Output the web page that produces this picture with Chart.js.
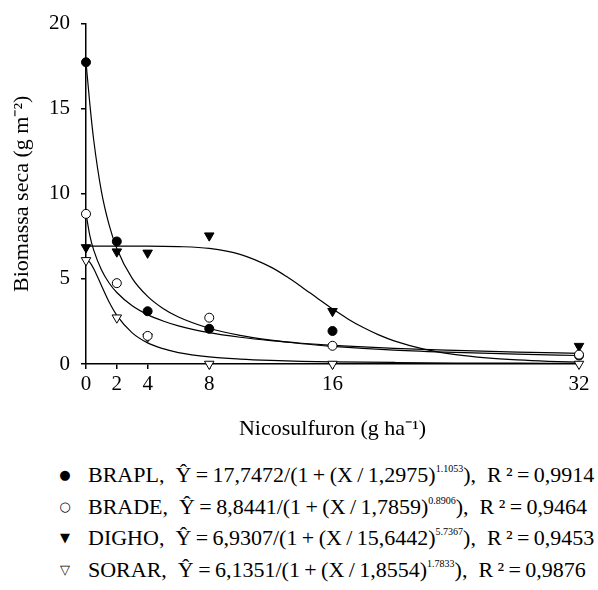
<!DOCTYPE html>
<html>
<head>
<meta charset="utf-8">
<script src="https://cdn.jsdelivr.net/npm/chart.js@4.4.1/dist/chart.umd.min.js"></script>
<style>
	body { margin:0; background:#fff; width:598px; height:590px; overflow:hidden; font-family:'Liberation Serif', 'Times New Roman', serif; color:#000; }
	#wrap { position:relative; width:598px; height:450px; }
	.row { position:absolute; left:0; width:598px; height:32px; line-height:32px; font-size:22px; white-space:nowrap; }
	.mk { position:absolute; left:57px; width:16px; text-align:center; font-family:'DejaVu Sans'; font-size:13px; }
	.tx { position:absolute; left:88px; }
	.tx sup { font-size:10px; vertical-align:10px; line-height:0; }
</style>
</head>
<body>
<div id="wrap"><canvas id="c" width="598" height="450"></canvas></div>
<script>
// doses
const xTicks = [0, 2, 4, 8, 16, 32]
const doses = [0, 2, 4, 8, 16, 32]

// observed values
const brapl = [17.73, 7.2, 3.1, 2.07, 1.94, 0.5]
const brade = [8.82, 4.75, 1.65, 2.72, 1.07, 0.55]
const digho = [6.85, 6.6, 6.53, 7.54, 3.1, 1.05]
const sorar = [6.09, 2.72, 1.6, 0, 0, 0]

// fitted curves
const fitX = [0, 0.25, 0.5, 1, 1.5, 2, 3, 4, 5, 6, 8, 10, 12, 14, 16, 20, 24, 28, 32]
const braplFit = [17.75, 15.27, 13.16, 10.14, 8.17, 6.79, 5.03, 3.97, 3.26, 2.76, 2.10, 1.68, 1.40, 1.19, 1.04, 0.82, 0.68, 0.58, 0.50]
const bradeFit = [8.84, 7.54, 6.69, 5.54, 4.76, 4.20, 3.42, 2.90, 2.53, 2.24, 1.84, 1.57, 1.37, 1.22, 1.10, 0.92, 0.80, 0.70, 0.63]
const sorarFit = [6.14, 5.97, 5.60, 4.61, 3.64, 2.86, 1.83, 1.24, 0.90, 0.67, 0.42, 0.29, 0.21, 0.16, 0.13, 0.09, 0.06, 0.05, 0.04]
const dighoX = [0, 2, 4, 6, 8, 10, 12, 13, 14, 15, 16, 17, 18, 19, 20, 22, 24, 26, 28, 30, 32]
const dighoFit = [6.93, 6.93, 6.93, 6.90, 6.79, 6.44, 5.69, 5.15, 4.53, 3.88, 3.24, 2.65, 2.14, 1.71, 1.36, 0.86, 0.55, 0.36, 0.24, 0.16, 0.11]

const legendRows = [
	['\u25CF', 'BRAPL', '17,7472', '1,2975', '1.1053', '0,9914'],
	['\u25CB', 'BRADE', '8,8441', '1,7859', '0.8906', '0,9464'],
	['\u25BC', 'DIGHO', '6,9307', '15,6442', '5.7367', '0,9453'],
	['\u25BD', 'SORAR', '6,1351', '1,8554', '1.7833', '0,9876'],
]

const pts = (xs, ys) => xs.map((x, i) => ({x:x, y:ys[i]}))

const marks = (ys, style, fill) => ({
	data: pts(doses, ys),
	showLine: false,
	pointStyle: style,
	rotation: style == 'triangle' ? 180 : 0,
	pointRadius: style == 'triangle' ? 5.5 : 4.5,
	pointBackgroundColor: fill,
	pointBorderColor: '#000',
	pointBorderWidth: 1,
	clip: false,
})

const curve = (xs, ys) => ({
	data: pts(xs, ys),
	showLine: true,
	pointRadius: 0,
	borderColor: '#000',
	borderWidth: 1.2,
	cubicInterpolationMode: 'monotone',
	clip: 4,
})

const serif = "'Liberation Serif', 'Times New Roman', serif"
const tickFont = {family:serif, size:21}
const titleFont = {family:serif, size:22}

new Chart(document.getElementById('c'), {
	type: 'scatter',
	data: {
		datasets: [
			marks(brade, 'circle', '#fff'),
			marks(brapl, 'circle', '#000'),
			marks(sorar, 'triangle', '#fff'),
			marks(digho, 'triangle', '#000'),
			curve(fitX, braplFit),
			curve(fitX, bradeFit),
			curve(dighoX, dighoFit),
			curve(fitX, sorarFit),
		]
	},
	options: {
		responsive: false,
		animation: false,
		layout: {padding: {left:0, right:19, top:20, bottom:0}},
		plugins: {legend: {display:false}, tooltip: {enabled:false}},
		scales: {
			x: {
				type: 'linear', min: 0, max: 32,
				afterBuildTicks: s => { s.ticks = xTicks.map(v => ({value:v})) },
				afterFit: s => { s.height = 86 },
				grid: {drawOnChartArea:false, color:'#000', tickLength:5, lineWidth:1.5},
				border: {color:'#000', width:1.5},
				ticks: {color:'#000', font:tickFont, padding:3, maxRotation:0, autoSkip:false},
				title: {display:true, text:'Nicosulfuron (g ha\u207B\u00B9)', color:'#000', font:titleFont, padding:{top:0, bottom:8}},
			},
			y: {
				min: 0, max: 20,
				afterFit: s => { s.width = 86 },
				grid: {drawOnChartArea:false, color:'#000', tickLength:5, lineWidth:1.5},
				border: {color:'#000', width:1.5},
				ticks: {color:'#000', font:tickFont, stepSize:5, padding:11},
				title: {display:true, text:'Biomassa seca (g m\u207B\u00B2)', color:'#000', font:titleFont, padding:{top:9, bottom:0}},
			}
		}
	}
})

//legend
legendRows.forEach((r, i) => {
	const d = document.createElement('div')
	d.className = 'row'
	d.style.top = (475 + i * 31.5 - 16) + 'px'
	d.innerHTML = '<span class="mk">' + r[0] + '</span><span class="tx">' + r[1] +
		',&nbsp; \u0176\u2009=\u2009' + r[2] + '/(1\u2009+\u2009(X\u2009/\u2009' + r[3] + ')<sup>' + r[4] +
		'</sup>),&nbsp; R\u2009\u00B2\u2009=\u2009' + r[5] + '</span>'
	document.body.appendChild(d)
})
</script>
</body>
</html>
